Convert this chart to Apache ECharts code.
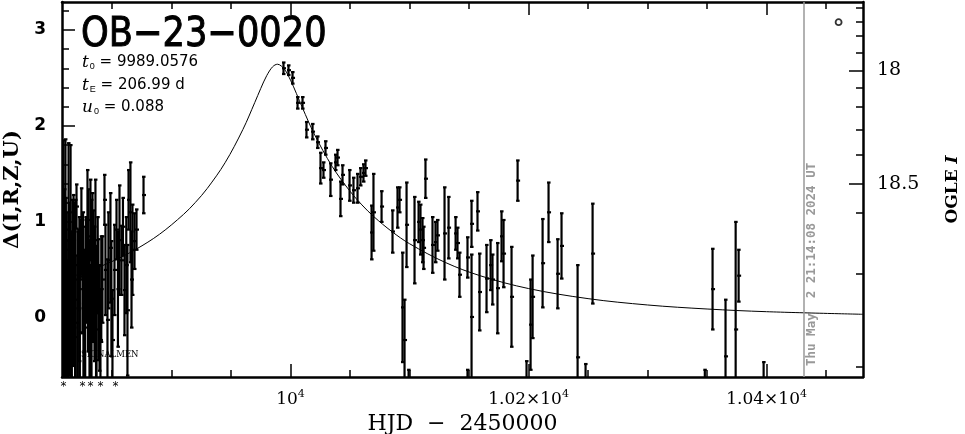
<!DOCTYPE html>
<html><head><meta charset="utf-8">
<script src="https://cdn.jsdelivr.net/npm/echarts@6/dist/echarts.min.js"></script>
<style>html,body{margin:0;padding:0;background:#fff}#c{width:965px;height:434px}</style>
</head><body><div id="c"></div>
<script>
// ---- data ----
const obsT = [9809.3,9810.1,9810.9,9811.8,9813.5,9815.2,9816.8,9817.7,9819.4,9820.2,9821.9,9823.5,9825.2,9826.9,9829.4,9830.3,9831.9,9832.8,9834.5,9836.1,9837.0,9838.6,9840.3,9843.7,9844.5,9846.2,9848.7,9850.4,9852.1,9853.8,9856.3,9858.0,9860.5,9863.0,9863.9,9865.5,9867.2,9868.9,9870.6,9876.5,
 9808.5,9809.8,9811.2,9812.6,9814.0,9815.9,9818.5,9820.9,9822.6,9824.3,9826.0,9828.1,9831.1,9833.6,9835.3,9838.0,9839.5,9842.0,9847.0,9849.5,9855.0,9859.2,9862.0,9866.4,
 9808.3,9809.0,9810.5,9812.0,9813.0,9814.6,9816.2,9817.3,9819.0,9821.3,9823.0,9825.7,9827.5,9829.9,9832.2,9834.0,9836.6,9841.0,
 9994.1,9998.3,10001.7,10005.9,10010.1,10013.4,10018.5,10022.7,10025.2,10027.7,10029.4,10033.6,10037.8,10039.5,10042.0,10043.7,10049.6,10052.9,10056.3,10058.8,10061.3,10063.0,10068.1,10069.7,10076.5,10085.7,10089.9,10091.6,10094.1,10095.8,10097.5,10104.2,10107.6,10109.2,10110.9,10113.4,10111.8,10119.3,10121.8,10123.5,10129.4,10132.8,10138.7,10140.3,10142.0,10148.7,10148.7,10099.2,10152.1,10152.1,10157.1,10158.8,10164.7,10168.1,10169.7,10173.9,10177.3,10179.0,10185.7,10190.8,10198.3,10201.7,10203.4,10211.8,10216.8,10224.4,10227.7,10241.2,10247.9,10253.8,10348.1,10354.6,10365.5,10374.0,10376.5,10397.5];
const obsD = [0.60,0.19,0.92,-0.02,0.71,0.60,0.40,0.81,0.19,1.16,0.50,0.71,0.43,-0.02,0.81,0.71,1.02,0.29,0.60,0.81,-0.12,0.19,-0.23,1.23,0.50,-0.02,0.73,-0.23,0.50,0.92,0.81,0.60,0.29,0.08,1.23,1.10,0.71,0.80,0.92,1.28,
 0.35,0.05,0.45,-0.10,0.30,0.10,0.55,-0.05,0.30,0.90,0.15,0.50,0.05,0.95,0.25,0.55,0.00,0.40,0.60,0.20,0.30,0.95,0.55,0.40,
 -0.05,0.25,-0.20,0.20,-0.15,0.40,-0.10,0.20,-0.20,0.10,-0.15,0.60,-0.10,0.25,-0.15,0.35,0.05,0.30,
 2.60,2.58,2.50,2.24,2.24,1.96,1.94,1.83,1.56,1.54,1.77,1.44,1.62,1.67,1.24,1.49,1.38,1.33,1.35,1.47,1.51,1.56,0.89,1.10,1.16,0.90,1.15,1.23,0.11,-0.23,0.97,0.81,1.00,0.92,0.81,1.45,0.73,0.76,0.79,0.86,0.88,0.94,0.88,0.78,0.45,0.63,-0.80,-0.80,0.98,0.01,1.11,0.27,0.41,0.55,0.40,0.31,0.85,0.67,0.22,1.43,-0.85,-0.07,0.22,0.57,1.10,0.46,0.75,-0.41,-0.85,0.67,-0.85,0.30,-0.40,-0.12,0.44,-0.80];
const obsE = [1.25,1.15,0.94,0.83,1.11,1.20,0.83,0.47,1.04,0.23,0.42,0.31,0.59,0.73,0.73,0.63,0.42,0.94,0.52,0.63,0.63,0.63,0.52,0.26,0.47,0.63,0.57,0.52,0.47,0.31,0.57,0.36,0.47,0.68,0.31,0.52,0.47,0.29,0.21,0.19,
 0.95,0.70,0.80,0.60,0.90,0.80,0.65,0.70,0.75,0.45,0.80,0.55,0.75,0.35,0.70,0.50,0.55,0.45,0.50,0.60,0.60,0.30,0.50,0.50,
 0.80,0.85,0.70,0.90,0.75,0.70,0.80,0.70,0.60,0.80,0.70,0.50,0.75,0.60,0.70,0.60,0.70,0.55,
 0.06,0.05,0.06,0.06,0.06,0.08,0.08,0.06,0.16,0.08,0.07,0.17,0.08,0.08,0.18,0.10,0.16,0.13,0.15,0.09,0.09,0.08,0.28,0.40,0.16,0.22,0.21,0.13,0.57,0.42,0.44,0.45,0.21,0.26,0.23,0.20,0.22,0.29,0.21,0.16,0.48,0.32,0.17,0.16,0.23,0.21,0.26,0.26,0.24,0.65,0.20,0.40,0.35,0.26,0.26,0.47,0.26,0.35,0.52,0.21,0.40,0.47,0.43,0.46,0.31,0.36,0.34,0.96,0.37,0.52,0.31,0.42,0.59,1.12,0.27,0.34];

const modelT = [9808,9830,9850,9870,9890,9910,9920,9930,9945,9960,9970,9975,9980,9985,9989.06,9995,10000,10005,10010,10020,10035,10050,10060,10070,10085,10100,10130,10160,10200,10250,10300,10350,10400,10481];
const modelD = [0.399,0.487,0.588,0.714,0.872,1.077,1.202,1.348,1.616,1.963,2.244,2.390,2.523,2.616,2.642,2.587,2.476,2.336,2.189,1.914,1.578,1.319,1.177,1.055,0.901,0.773,0.578,0.437,0.306,0.201,0.135,0.093,0.065,0.038];

const xMajor = [10000,10200,10400];
const xMajorLabels = ['10','1.02×10','1.04×10'];
const xMinor = [9850,9900,9950,10050,10100,10150,10250,10300,10350,10450];
const yMajor = [0,1,2,3];
const yMinor = [-0.6,-0.4,-0.2,0.2,0.4,0.6,0.8,1.2,1.4,1.6,1.8,2.2,2.4,2.6,2.8,3.2];
const rightMajorMag = ['18','18.5'];
const rightMajorPos = [2.579,1.396];
const rightMinorPos = [3.235,3.085,2.935,2.761,2.395,2.196,1.958,1.698,1.094,0.458,-0.510];
const starT = [9809.3,9825.2,9831.9,9840.3,9852.9];
const circleT = [10460.5], circleD = [3.08];
const stampT = 10431.1;

const X0 = 9808, X1 = 10481, Y0 = -0.615, Y1 = 3.29;

const chart = echarts.init(document.getElementById('c'));
const serif = 'DejaVu Serif';
const baseX = {type:'value', min:X0, max:X1, splitLine:{show:false}};
const baseY = {type:'value', min:Y0, max:Y1, splitLine:{show:false}};
function nearestLabel(v, pos, labels){let b=0;for(let i=1;i<pos.length;i++){if(Math.abs(pos[i]-v)<Math.abs(pos[b]-v))b=i;}return labels[b];}
const lineOn = {show:true,onZero:false,lineStyle:{color:'#000',width:2.5}};
const lineOff = {show:false,onZero:false};

chart.setOption({
  animation:false,
  grid:{left:62,right:102,top:2,bottom:57,containLabel:false,outerBoundsMode:'none'},
  xAxis:[
    Object.assign({}, baseX, {position:'bottom',axisLine:lineOn,
      axisTick:{show:true,inside:true,length:13,customValues:xMajor,lineStyle:{color:'#000',width:1.5}},
      axisLabel:{show:true,margin:12,customValues:xMajor,color:'#000',
        formatter:function(v){return nearestLabel(v,xMajor,xMajorLabels)+'{sup|4}';},
        fontFamily:serif,fontSize:17,rich:{sup:{fontFamily:serif,fontSize:11,verticalAlign:'top',padding:[0,0,10,0],color:'#000'}}},
      name:'HJD  −  2450000',nameLocation:'middle',nameGap:32,
      nameTextStyle:{fontFamily:serif,fontSize:22,color:'#000'}}),
    Object.assign({}, baseX, {position:'bottom',axisLine:lineOff,
      axisTick:{show:true,inside:true,length:7,customValues:xMinor,lineStyle:{color:'#000',width:1.5}},
      axisLabel:{show:false}}),
    Object.assign({}, baseX, {position:'top',axisLine:lineOn,
      axisTick:{show:true,inside:true,length:13,customValues:xMajor,lineStyle:{color:'#000',width:1.5}},
      axisLabel:{show:false}}),
    Object.assign({}, baseX, {position:'top',axisLine:lineOff,
      axisTick:{show:true,inside:true,length:7,customValues:xMinor,lineStyle:{color:'#000',width:1.5}},
      axisLabel:{show:false}})
  ],
  yAxis:[
    Object.assign({}, baseY, {position:'left',axisLine:lineOn,
      axisTick:{show:true,inside:true,length:13,customValues:yMajor,lineStyle:{color:'#000',width:1.5}},
      axisLabel:{show:true,margin:16,customValues:yMajor,color:'#000',fontFamily:'DejaVu Sans',fontWeight:'bold',fontSize:17,
        formatter:function(v){return String(Math.round(v));}},
      name:'Δ(I,R,Z,U)',nameLocation:'middle',nameGap:39,nameRotate:90,
      nameTextStyle:{fontFamily:serif,fontWeight:'bold',fontSize:21,color:'#000'}}),
    Object.assign({}, baseY, {position:'left',axisLine:lineOff,
      axisTick:{show:true,inside:true,length:7,customValues:yMinor,lineStyle:{color:'#000',width:1.5}},
      axisLabel:{show:false}}),
    Object.assign({}, baseY, {position:'right',axisLine:lineOn,
      axisTick:{show:true,inside:true,length:14,customValues:rightMajorPos,lineStyle:{color:'#000',width:1.5}},
      axisLabel:{show:true,margin:14,customValues:rightMajorPos,color:'#000',fontFamily:serif,fontSize:19,
        formatter:function(v){return nearestLabel(v,rightMajorPos,rightMajorMag);}},
      name:'{a|OGLE }{b|I}',nameLocation:'middle',nameGap:81,nameRotate:90,
      nameTextStyle:{rich:{a:{fontFamily:serif,fontWeight:'bold',fontSize:17,color:'#000'},b:{fontFamily:serif,fontWeight:'bold',fontStyle:'italic',fontSize:17,color:'#000'}}}}),
    Object.assign({}, baseY, {position:'right',axisLine:lineOff,
      axisTick:{show:true,inside:true,length:7,customValues:rightMinorPos,lineStyle:{color:'#000',width:1.5}},
      axisLabel:{show:false}})
  ],
  series:[
    {type:'line',xAxisIndex:0,yAxisIndex:0,data:modelT.map((t,i)=>[t,modelD[i]]),smooth:0.35,showSymbol:false,
      lineStyle:{color:'#000',width:1},z:3,
      markLine:{silent:true,symbol:['none','none'],label:{show:false},
        lineStyle:{color:'#999',width:1.5,type:'solid'},data:[{xAxis:stampT}]}},
    {type:'custom',xAxisIndex:0,yAxisIndex:0,clip:true,z:4,
      data:obsT.map((t,i)=>[t,obsD[i],obsE[i]]),
      renderItem:function(params,api){
        const t=api.value(0),d=api.value(1),e=api.value(2);
        const p=api.coord([t,d]),lo=api.coord([t,d-e]),hi=api.coord([t,d+e]);
        const st={stroke:'#000',lineWidth:2.2};
        return {type:'group',children:[
          {type:'line',shape:{x1:p[0],y1:lo[1],x2:p[0],y2:hi[1]},style:st},
          {type:'line',shape:{x1:p[0]-1.5,y1:lo[1],x2:p[0]+2,y2:lo[1]},style:st},
          {type:'line',shape:{x1:p[0]-1.5,y1:hi[1],x2:p[0]+2,y2:hi[1]},style:st},
          {type:'line',shape:{x1:p[0]-1.5,y1:p[1],x2:p[0]+2.5,y2:p[1]},style:st}
        ]};
      }},
    {type:'scatter',xAxisIndex:0,yAxisIndex:0,data:circleT.map((t,i)=>[t,circleD[i]]),symbol:'circle',symbolSize:6,
      itemStyle:{color:'#fff',borderColor:'#000',borderWidth:1.8},z:5},
    {type:'custom',xAxisIndex:0,yAxisIndex:0,clip:false,z:5,
      data:starT.map(t=>[t]),
      renderItem:function(params,api){
        const p=api.coord([api.value(0),Y0]);
        return {type:'text',style:{text:'*',x:p[0],y:p[1]+10,align:'center',verticalAlign:'middle',fontFamily:'DejaVu Sans',fontSize:12,fill:'#000'}};
      }}
  ],
  graphic:[
    {type:'text',x:81,y:15,scaleX:0.86,style:{text:'OB−23−0020',fontFamily:'DejaVu Sans',fontSize:41,fill:'#000',stroke:'#000',lineWidth:1}},
    {type:'text',left:82,top:54,style:{text:'{i|t}{s|0} = 9989.0576',fontFamily:'DejaVu Sans',fontSize:15,fill:'#000',
      rich:{i:{fontFamily:serif,fontStyle:'italic',fontSize:17},s:{fontSize:9,verticalAlign:'bottom',padding:[7,0,0,1]}}}},
    {type:'text',left:82,top:77,style:{text:'{i|t}{s|E} = 206.99 d',fontFamily:'DejaVu Sans',fontSize:15,fill:'#000',
      rich:{i:{fontFamily:serif,fontStyle:'italic',fontSize:17},s:{fontSize:9,verticalAlign:'bottom',padding:[7,0,0,1]}}}},
    {type:'text',left:82,top:99,style:{text:'{i|u}{s|0} = 0.088',fontFamily:'DejaVu Sans',fontSize:15,fill:'#000',
      rich:{i:{fontFamily:serif,fontStyle:'italic',fontSize:17},s:{fontSize:9,verticalAlign:'bottom',padding:[7,0,0,1]}}}},
    {type:'text',left:81,top:350,style:{text:'SIGNALMEN',fontFamily:serif,fontSize:8.5,fill:'#000'}},
    {type:'text',x:812,y:366,rotation:Math.PI/2,style:{text:'Thu May  2 21:14:08 2024 UT',fontFamily:'DejaVu Sans Mono',fontWeight:'bold',fontSize:12.5,fill:'#999',align:'left',verticalAlign:'middle'}}
  ]
});
</script></body></html>
